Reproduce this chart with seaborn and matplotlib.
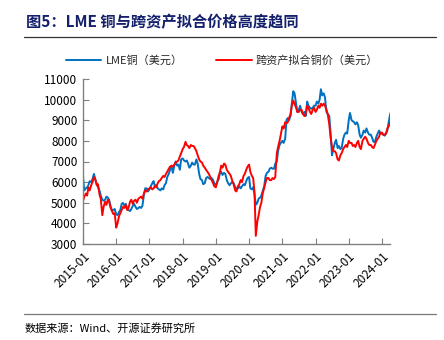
import numpy as np
import pandas as pd
import matplotlib
matplotlib.use("Agg")
import matplotlib.pyplot as plt
import matplotlib.dates as mdates
from matplotlib.lines import Line2D
import seaborn as sns

sns.set_theme(style="white")
plt.rcParams['font.family'] = ['Noto Sans CJK SC', 'DejaVu Sans']

start_month = "2015-01-01"
# semi-monthly readings (1st and 15th of each month), 2015-01 .. 2024-04
lme = [6250, 5600, 5700, 5750, 5850, 6050, 6000, 6150, 6400, 6150, 5900, 5750,
       5600, 5350, 5150, 5100, 5150, 5300, 5250, 5150, 4800, 4650, 4650, 4700,
       4450, 4400, 4550, 4650, 4950, 5000, 4850, 4950, 4700, 4650, 4600, 4700,
       4850, 4950, 4800, 4700, 4750, 4800, 4750, 4850, 5400, 5700, 5700, 5550,
       5650, 5800, 5950, 6050, 5800, 5850, 5700, 5650, 5600, 5700, 5650, 5850,
       5950, 6250, 6400, 6600, 6750, 6450, 6800, 7000, 6800, 6850, 6600, 7100,
       7150, 7050, 7000, 7050, 6900, 6700, 6800, 6950, 6850, 6850, 7100, 6900,
       6400, 6150, 6100, 5900, 5950, 6200, 6250, 6200, 6150, 6200, 6100, 5950,
       5850, 6000, 6150, 6450, 6500, 6350, 6450, 6400, 6100, 5950, 5850, 5950,
       6000, 5950, 5750, 5700, 5700, 5800, 5700, 5800, 5900, 5850, 6050, 6200,
       6250, 5700, 5650, 5750, 5400, 4900, 5000, 5200, 5250, 5350, 5600, 5800,
       6300, 6450, 6500, 6650, 6700, 6650, 6650, 6900, 7000, 7500, 7800, 7900,
       8000, 7900, 8100, 9000, 9100, 9000, 9200, 9800, 10400, 10300, 9800, 9400,
       9500, 9700, 9400, 9300, 9400, 9200, 9900, 9700, 9600, 9550, 9600, 9700,
       9700, 9900, 9800, 10000, 10500, 10200, 10300, 10100, 9400, 9300, 9200, 8400,
       7300, 7600, 7900, 8050, 7650, 7750, 7600, 7650, 8100, 8300, 8400, 8350,
       9000, 9350, 9000, 8950, 8900, 8800, 8900, 8750, 8300, 8150, 8300, 8500,
       8400, 8600, 8400, 8300, 8300, 8150, 7950, 7950, 8200, 8350, 8500, 8350,
       8350, 8300, 8250, 8350, 8500, 8900, 9300, 9450]
fit = [5100, 5300, 5450, 5350, 5750, 5600, 5850, 6000, 6250, 6150, 5850, 5900,
       5400, 5200, 4400, 4800, 5050, 4900, 5150, 5050, 4750, 4600, 4450, 4500,
       3800, 4000, 4350, 4500, 4650, 4800, 4750, 4900, 4650, 4750, 5050, 5150,
       4950, 5100, 5150, 5000, 5200, 5250, 5300, 5200, 5450, 5600, 5550, 5650,
       5700, 5750, 5650, 5700, 5800, 5750, 5950, 6050, 6100, 6200, 6300, 6250,
       6400, 6500, 6650, 6750, 6800, 6750, 6850, 6950, 7000, 7050, 7250, 7400,
       7600, 7700, 7950, 7800, 7750, 7650, 7800, 7750, 7750, 7650, 7500, 7300,
       7100, 7000, 6950, 6800, 6700, 6600, 6500, 6400, 6250, 6100, 5950, 5800,
       5750, 6000, 6300, 6500, 6800, 6700, 6900, 6850, 6600, 6500, 6400, 6300,
       6050, 5900, 5600, 5550, 5800, 5900, 6100, 6000, 6300, 6400, 6600, 6750,
       6850, 6500, 6300, 6200, 5500, 3400, 4100, 4400, 4800, 5000, 5500, 5700,
       6000, 6200, 6200, 6100, 6100, 6200, 6150, 6250, 7400, 7700, 8000, 8300,
       8700, 8600, 8900, 8850, 8900, 9100, 9300, 9700, 9950, 9800, 9600, 9400,
       9400, 9500, 9500, 9300, 9200, 9300, 9700, 9600, 9400, 9300, 9500, 9600,
       9400, 9500, 9700, 9600, 9800, 9700, 9800, 9700, 9500, 9300, 8800, 8200,
       7700, 7500, 7500, 7400, 7100, 7050, 7300, 7400, 7600, 7700, 7800, 7700,
       8000, 7900, 7900, 7750, 7800, 7700, 7900, 8000, 7700, 7600, 8000, 8100,
       8200, 8100, 7900, 7800, 7800, 7700, 7650, 7800, 8000, 8100, 8200, 8400,
       8400, 8300, 8300, 8350, 8600, 8700, 8900, 8950]
series_names = ["LME铜（美元）", "跨资产拟合铜价（美元）"]
colors = ["#0070C0", "#FF0000"]
ytick_vals = [3000, 4000, 5000, 6000, 7000, 8000, 9000, 10000, 11000]
xtick_years = list(range(2015, 2025))

dates = pd.date_range(start_month, periods=len(lme), freq="SMS")
df = pd.concat([
    pd.DataFrame({"date": dates, "value": lme, "series": series_names[0]}),
    pd.DataFrame({"date": dates, "value": fit, "series": series_names[1]}),
])

fig = plt.figure(figsize=(4.44, 3.40), dpi=100)
ax = fig.add_axes([0.187, 0.282, 0.691, 0.486])
sns.lineplot(data=df, x="date", y="value", hue="series", palette=colors,
             linewidth=1.4, ax=ax, legend=False)

ax.set_ylim(3000, 11000)
ax.set_xlim(pd.Timestamp("2015-01-01"), pd.Timestamp("2024-03-28"))
ax.set_yticks(ytick_vals)
ax.set_xticks([pd.Timestamp(f"{y}-01-01") for y in xtick_years])
ax.xaxis.set_major_formatter(mdates.DateFormatter("%Y-%m"))
ax.set_xlabel("")
ax.set_ylabel("")
for s in ["top", "right"]:
    ax.spines[s].set_visible(False)
for s in ["left", "bottom"]:
    ax.spines[s].set_color("#808080")
    ax.spines[s].set_linewidth(1.0)
ax.tick_params(axis="both", direction="in", length=4, width=0.8, color="#808080",
               labelsize=8.5, labelcolor="#000000", pad=4)
ax.tick_params(axis="x", bottom=True)
ax.tick_params(axis="y", left=True)
plt.setp(ax.get_xticklabels(), rotation=45, ha="right", rotation_mode="anchor")
ax.grid(False)

handles = [Line2D([], [], color=c, lw=1.4) for c in colors]
fig.legend(handles, series_names, loc="center", bbox_to_anchor=(0.5, 0.823),
           ncol=2, frameon=False, fontsize=8, handlelength=3.2,
           columnspacing=3.0, handletextpad=0.4)

fig.text(0.058, 0.935, "图5：LME 铜与跨资产拟合价格高度趋同", fontsize=11,
         fontweight="bold", color="#14206B", va="center", ha="left")
fig.add_artist(Line2D([0.054, 0.982], [0.891, 0.891], color="#333333", lw=0.9))
fig.add_artist(Line2D([0.054, 0.982], [0.076, 0.076], color="#777777", lw=0.9))
fig.text(0.056, 0.035, "数据来源：Wind、开源证券研究所", fontsize=8,
         color="#000000", va="center", ha="left")

fig.savefig("out.png", dpi=100)
